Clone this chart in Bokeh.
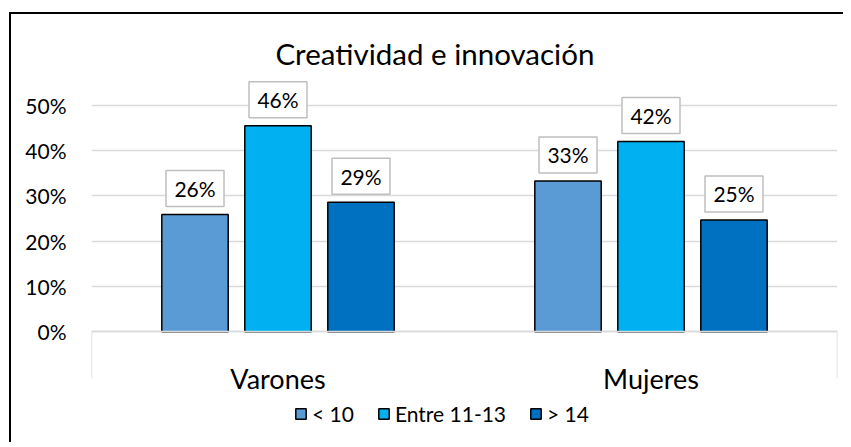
from bokeh.plotting import figure
from bokeh.models import (Range1d, FixedTicker, NumeralTickFormatter, Legend,
                          LegendItem, ColumnDataSource)
from bokeh.core.properties import value
from bokeh.embed import file_html
from bokeh.resources import INLINE

# ---- data ----
categories = ["Varones", "Mujeres"]
series_names = ["< 10", "Entre 11-13", "> 14"]
lt10 = [0.259, 0.333]
mid = [0.455, 0.420]
gt14 = [0.286, 0.247]
y_ticks = [0, 0.1, 0.2, 0.3, 0.4, 0.5]
colors = ["#5B9BD5", "#00B0F0", "#0070C0"]

FONT = "Lato"
GRID = "#D9D9D9"

p = figure(width=834, height=430, x_range=Range1d(0, 2), y_range=Range1d(-0.2201, 0.5614),
           output_backend="svg", toolbar_location=None,
           min_border_left=80, min_border_right=8, min_border_top=63, min_border_bottom=13,
           margin=(12, 0, 0, 9))
p.styles = {"border-left": "2px solid black", "border-top": "2px solid black"}
p.outline_line_color = None
p.background_fill_color = "white"
p.border_fill_color = "white"

# title
p.title.text = "Creatividad e innovación"
p.title.text_font = FONT
p.title.text_font_size = "29.5px"
p.title.text_font_style = "normal"
p.title.text_color = "#000000"
p.title.align = "left"
p.title.offset = 184
p.title.standoff = 13

# y axis
p.yaxis.ticker = FixedTicker(ticks=y_ticks)
p.yaxis.formatter = NumeralTickFormatter(format="0%")
p.yaxis.axis_line_color = None
p.yaxis.major_tick_line_color = None
p.yaxis.minor_tick_line_color = None
p.yaxis.major_label_standoff = 19
p.yaxis.major_label_text_font = FONT
p.yaxis.major_label_text_font_size = "21px"
p.yaxis.major_label_text_color = "#000000"

p.ygrid.ticker = FixedTicker(ticks=y_ticks)
p.ygrid.grid_line_color = GRID
p.ygrid.grid_line_width = 1.5
p.xgrid.grid_line_color = None

# x axis (category axis sitting on 0%)
cat_pos = [0.5 + i for i in range(len(categories))]
p.xaxis.fixed_location = 0
p.xaxis.ticker = FixedTicker(ticks=cat_pos, minor_ticks=[0, len(categories)])
p.xaxis.major_label_overrides = {c: n for c, n in zip(cat_pos, categories)}
p.xaxis.axis_line_color = GRID
p.xaxis.axis_line_width = 1.5
p.xaxis.major_tick_in = 0
p.xaxis.major_tick_out = 0
p.xaxis.minor_tick_in = 0
p.xaxis.minor_tick_out = 47
p.xaxis.minor_tick_line_color = GRID
p.xaxis.minor_tick_line_width = 1.5
p.xaxis.major_label_standoff = -17
p.xaxis.major_label_text_font = FONT
p.xaxis.major_label_text_font_size = "27px"
p.xaxis.major_label_text_color = "#000000"

# bars
offsets = [-0.2225, 0.0, 0.2225]
bar_w = 0.178
label_gap = 0.0574
items = []
for vals, name, col, off in zip([lt10, mid, gt14], series_names, colors, offsets):
    xs = [c + off for c in cat_pos]
    src = ColumnDataSource(dict(x=xs, top=vals,
                                ly=[v + label_gap for v in vals],
                                txt=["{:.0f}%".format(v * 100) for v in vals]))
    r = p.vbar(x="x", top="top", bottom=0, width=bar_w, source=src,
               fill_color=col, line_color="black", line_width=1.5)
    items.append(LegendItem(label=name, renderers=[r]))
    p.rect(x="x", y="ly", width=58, height=36, width_units="screen", height_units="screen",
           source=src, fill_color="white", line_color="#BFBFBF", line_width=1.5)
    p.text(x="x", y="ly", text="txt", source=src, text_align="center", text_baseline="middle",
           text_font=value(FONT), text_font_size="21px", text_color="#000000")

legend = Legend(items=items, orientation="horizontal", location=(203, 5),
                padding=0, margin=0, spacing=23, label_standoff=5,
                glyph_width=13, glyph_height=13, border_line_color=None,
                background_fill_alpha=0,
                label_text_font=FONT, label_text_font_size="21px", label_text_color="#000000")
p.add_layout(legend, "center")

open("out.html", "w").write(file_html(p, INLINE))
